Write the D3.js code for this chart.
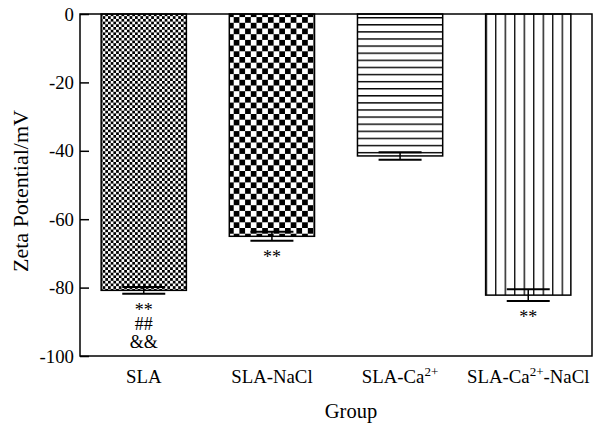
<!DOCTYPE html>
<html>
<head>
<meta charset="utf-8">
<script src="https://cdn.jsdelivr.net/npm/d3@7"></script>
<style>
  body { margin: 0; background: #fff; }
  svg text { font-family: "Liberation Serif", "Times New Roman", serif; fill: #000; }
</style>
</head>
<body>
<svg id="chart" width="597" height="427"></svg>
<script>
// data
var groups = ["SLA", "SLA-NaCl", "SLA-Ca2+", "SLA-Ca2+-NaCl"];
var means = [-80.8, -65.0, -41.5, -82.2];
var errs = [1.0, 1.3, 1.1, 1.7];
var marks = [["**", "##", "&&"], ["**"], [], ["**"]];
var yTicks = [0, -20, -40, -60, -80, -100];

var svg = d3.select("#chart");

var plotL = 80, plotR = 592, plotT = 14, plotB = 356;
var fs = "18.8px";

var x = d3.scaleBand()
  .domain(groups)
  .range([plotL, plotR])
  .paddingInner(0.335)
  .paddingOuter(0.165);

var y = d3.scaleLinear()
  .domain([0, -100])
  .range([plotT, plotB]);

// fill patterns, one per bar
var defs = svg.append("defs");

function checker(id, c) {
  var p = defs.append("pattern")
    .attr("id", id)
    .attr("patternUnits", "userSpaceOnUse")
    .attr("width", c * 2)
    .attr("height", c * 2);
  p.append("rect").attr("width", c * 2).attr("height", c * 2).attr("fill", "#fff");
  p.append("rect").attr("width", c).attr("height", c).attr("fill", "#000");
  p.append("rect").attr("x", c).attr("y", c).attr("width", c).attr("height", c).attr("fill", "#000");
}
checker("pat0", 2.7);
checker("pat1", 5.7);

var ph = defs.append("pattern")
  .attr("id", "pat2")
  .attr("patternUnits", "userSpaceOnUse")
  .attr("y", plotT + 3)
  .attr("width", 10).attr("height", 7.1);
ph.append("rect").attr("width", 10).attr("height", 7.1).attr("fill", "#fff");
ph.append("rect").attr("y", 0).attr("width", 10).attr("height", 1.4).attr("fill", "#000");

var pv = defs.append("pattern")
  .attr("id", "pat3")
  .attr("patternUnits", "userSpaceOnUse")
  .attr("x", x(groups[3]))
  .attr("width", 9.5).attr("height", 10);
pv.append("rect").attr("width", 9.5).attr("height", 10).attr("fill", "#fff");
pv.append("rect").attr("x", 0).attr("width", 1.3).attr("height", 10).attr("fill", "#000");

// bars
svg.selectAll(".bar")
  .data(groups)
  .enter()
  .append("rect")
  .attr("class", "bar")
  .attr("x", function(d) { return x(d); })
  .attr("y", y(0))
  .attr("width", x.bandwidth())
  .attr("height", function(d, i) { return y(means[i]) - y(0); })
  .attr("fill", function(d, i) { return "url(#pat" + i + ")"; })
  .attr("stroke", "#000")
  .attr("stroke-width", 1.5);

// error bars
var capW = 43;
var eb = svg.selectAll(".err")
  .data(groups)
  .enter()
  .append("g")
  .attr("class", "err")
  .attr("stroke", "#000")
  .attr("stroke-width", 2);

eb.append("line")
  .attr("x1", function(d) { return x(d) + x.bandwidth() / 2; })
  .attr("x2", function(d) { return x(d) + x.bandwidth() / 2; })
  .attr("y1", function(d, i) { return y(means[i] + errs[i]); })
  .attr("y2", function(d, i) { return y(means[i] - errs[i]); })
  .attr("stroke-width", 1.5);

[1, -1].forEach(function(s) {
  eb.append("line")
    .attr("x1", function(d) { return x(d) + x.bandwidth() / 2 - capW / 2; })
    .attr("x2", function(d) { return x(d) + x.bandwidth() / 2 + capW / 2; })
    .attr("y1", function(d, i) { return y(means[i] + s * errs[i]); })
    .attr("y2", function(d, i) { return y(means[i] + s * errs[i]); });
});

// significance marks under the bars
var markDy = [22, 36, 54];
groups.forEach(function(g, i) {
  marks[i].forEach(function(m, j) {
    svg.append("text")
      .attr("x", x(g) + x.bandwidth() / 2)
      .attr("y", y(means[i] - errs[i]) + markDy[j])
      .attr("text-anchor", "middle")
      .attr("font-size", "18px")
      .text(m);
  });
});

// frame
svg.append("rect")
  .attr("x", plotL).attr("y", plotT)
  .attr("width", plotR - plotL).attr("height", plotB - plotT)
  .attr("fill", "none")
  .attr("stroke", "#000")
  .attr("stroke-width", 1.5);

// y axis, ticks pointing inward
var yAxis = svg.append("g")
  .attr("transform", "translate(" + plotL + ",0)")
  .call(d3.axisRight(y).tickValues(yTicks).tickSize(9));
yAxis.select(".domain").remove();
yAxis.selectAll("line").attr("stroke-width", 1.5);
yAxis.selectAll("text")
  .attr("x", -6)
  .attr("text-anchor", "end")
  .attr("font-size", fs)
  .attr("font-family", "Liberation Serif")
  .text(function(d) { return d === 0 ? "0" : "-" + Math.abs(d); });

// x labels with superscripts
svg.selectAll(".xlab")
  .data(groups)
  .enter()
  .append("text")
  .attr("class", "xlab")
  .attr("x", function(d) { return x(d) + x.bandwidth() / 2; })
  .attr("y", 383)
  .attr("text-anchor", "middle")
  .attr("font-size", fs)
  .each(function(d) {
    var t = d3.select(this);
    var parts = d.split("2+");
    t.append("tspan").text(parts[0]);
    if (parts.length > 1) {
      t.append("tspan").attr("font-size", "13px").attr("dy", -7).text("2+");
      t.append("tspan").attr("dy", 7).text(parts[1]);
    }
  });

svg.append("text")
  .attr("x", 351)
  .attr("y", 418)
  .attr("text-anchor", "middle")
  .attr("font-size", "20.5px")
  .text("Group");

svg.append("text")
  .attr("transform", "translate(28,191) rotate(-90)")
  .attr("text-anchor", "middle")
  .attr("font-size", "22px")
  .text("Zeta Potential/mV");
</script>
</body>
</html>
